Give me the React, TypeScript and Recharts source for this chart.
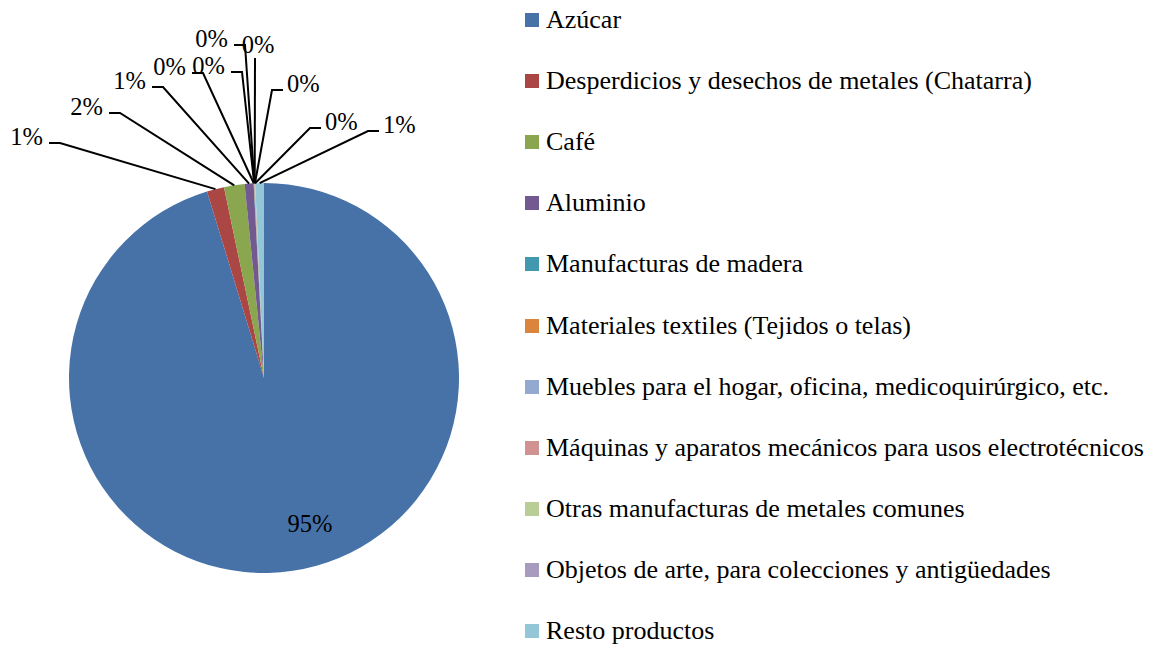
import React from 'react';
import { PieChart, Pie, Cell, Legend } from 'recharts';

if (typeof document !== 'undefined') document.body.style.margin = '0';

const categories = [
  'Azúcar',
  'Desperdicios y desechos de metales (Chatarra)',
  'Café',
  'Aluminio',
  'Manufacturas de madera',
  'Materiales textiles (Tejidos o telas)',
  'Muebles para el hogar, oficina, medicoquirúrgico, etc.',
  'Máquinas y aparatos mecánicos para usos electrotécnicos',
  'Otras manufacturas de metales comunes',
  'Objetos de arte, para colecciones y antigüedades',
  'Resto productos',
];

const shares = [95.3, 1.43, 1.7, 0.74, 0.03, 0.03, 0.02, 0.02, 0.02, 0.01, 0.72];

const colors = [
  '#4672A8', '#AA4644', '#8AA64F', '#72598F', '#4298AF', '#DB843D',
  '#93A9D0', '#D19392', '#B9CD97', '#A99BBD', '#93C6D7',
];

// label placement relative to pie centre (Excel moved them by hand)
const labelLayout = [
  { dx: 46, dy: 145, side: 'inside' },
  { dx: -204, dy: -235, side: 'left' },
  { dx: -144, dy: -265, side: 'left' },
  { dx: -101, dy: -291, side: 'left' },
  { dx: -61, dy: -305, side: 'left' },
  { dx: -22, dy: -306, side: 'left' },
  { dx: -19, dy: -333, side: 'left' },
  { dx: -9, dy: -320, side: 'top' },
  { dx: 8, dy: -288, side: 'right' },
  { dx: 46, dy: -250, side: 'right' },
  { dx: 104, dy: -247, side: 'right' },
];

const data = categories.map((name, i) => ({ name, value: shares[i] }));
const total = shares.reduce((a, b) => a + b, 0);

const FONT = 'Liberation Serif, Times New Roman, serif';
const LABEL_SIZE = 24.5;
const RAD = Math.PI / 180;

const renderLabel = (props: any) => {
  const { cx, cy, midAngle, outerRadius, index, value } = props;
  const lay = labelLayout[index];
  const text = `${Math.round((value / total) * 100)}%`;
  const textStyle = { fontFamily: FONT, fontSize: LABEL_SIZE };
  if (lay.side === 'inside') {
    return (
      <text x={cx + lay.dx} y={cy + lay.dy} textAnchor="middle" dominantBaseline="central"
        style={textStyle} fill="#000">{text}</text>
    );
  }
  const sx = cx + outerRadius * Math.cos(-midAngle * RAD);
  const sy = cy + outerRadius * Math.sin(-midAngle * RAD);
  const ex = cx + lay.dx;
  const ey = cy + lay.dy;
  const seg = 11;
  if (lay.side === 'top') {
    return (
      <g>
        <polyline points={`${sx},${sy} ${ex},${ey}`} stroke="#000" strokeWidth={2} fill="none" />
        <text x={ex + 3} y={ey - 5} textAnchor="middle" style={textStyle} fill="#000">{text}</text>
      </g>
    );
  }
  const hx = lay.side === 'left' ? ex - seg : ex + seg;
  return (
    <g>
      <polyline points={`${sx},${sy} ${ex},${ey} ${hx},${ey}`} stroke="#000" strokeWidth={2} fill="none" />
      <text
        x={lay.side === 'left' ? hx - 6 : hx + 4}
        y={ey + 2}
        textAnchor={lay.side === 'left' ? 'end' : 'start'}
        style={textStyle}
        fill="#000"
      >
        {text}
      </text>
    </g>
  );
};

const renderLegend = () => (
  <div style={{ fontFamily: FONT, fontSize: 26, color: '#000' }}>
    {categories.map((name, i) => (
      <div key={name} style={{ display: 'flex', alignItems: 'center', height: 61.2, lineHeight: '26px' }}>
        <span style={{ width: 14, height: 14, background: colors[i], display: 'inline-block', marginRight: 7, flexShrink: 0 }} />
        <span style={{ whiteSpace: 'nowrap' }}>{name}</span>
      </div>
    ))}
  </div>
);

export default function App() {
  return (
    <div style={{ width: 1165, height: 648, background: '#fff', position: 'relative', fontFamily: FONT }}>
      <PieChart width={1165} height={648} margin={{ top: 0, right: 0, bottom: 0, left: 0 }}>
        <Pie
          data={data}
          dataKey="value"
          nameKey="name"
          cx={264}
          cy={378}
          outerRadius={195}
          startAngle={90}
          endAngle={-270}
          stroke="none"
          label={renderLabel}
          labelLine={false}
          isAnimationActive={false}
        >
          {data.map((d, i) => (
            <Cell key={d.name} fill={colors[i]} />
          ))}
        </Pie>
        <Legend
          layout="vertical"
          verticalAlign="top"
          align="right"
          content={renderLegend}
          wrapperStyle={{ left: 525, top: -11, width: 640 }}
        />
      </PieChart>
    </div>
  );
}
